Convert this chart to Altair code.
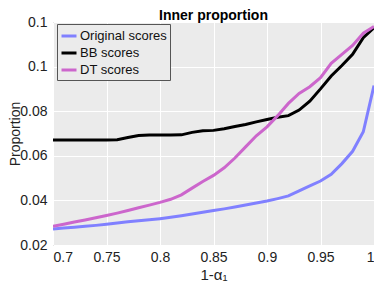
import altair as alt
import pandas as pd

x_vals = [0.70, 0.71, 0.72, 0.73, 0.74, 0.75, 0.76, 0.77, 0.78, 0.79, 0.80,
          0.81, 0.82, 0.83, 0.84, 0.85, 0.86, 0.87, 0.88, 0.89, 0.90,
          0.91, 0.92, 0.93, 0.94, 0.95, 0.96, 0.97, 0.98, 0.99, 1.00]

original = [0.0272, 0.0276, 0.0280, 0.0284, 0.0288, 0.0293, 0.0299, 0.0304, 0.0309, 0.0313, 0.0318,
            0.0324, 0.0331, 0.0339, 0.0347, 0.0355, 0.0362, 0.0370, 0.0379, 0.0388, 0.0397,
            0.0408, 0.0420, 0.0443, 0.0465, 0.0487, 0.0517, 0.0565, 0.0620, 0.0708, 0.0915]

bb = [0.0671, 0.0671, 0.0671, 0.0671, 0.0671, 0.0671, 0.0672, 0.0682, 0.0691, 0.0693, 0.0693,
      0.0693, 0.0694, 0.0705, 0.0712, 0.0714, 0.0721, 0.0731, 0.0740, 0.0752, 0.0763,
      0.0773, 0.0780, 0.0805, 0.0845, 0.0900, 0.0958, 0.1005, 0.1055, 0.1130, 0.1175]

dt = [0.0284, 0.0293, 0.0303, 0.0312, 0.0322, 0.0332, 0.0343, 0.0355, 0.0367, 0.0379, 0.0391,
      0.0405, 0.0425, 0.0455, 0.0485, 0.0512, 0.0546, 0.0590, 0.0640, 0.0690, 0.0730,
      0.0780, 0.0835, 0.0880, 0.0910, 0.0950, 0.1015, 0.1055, 0.1095, 0.1150, 0.1180]

series_names = ["Original scores", "BB scores", "DT scores"]
series_colors = ["#8080ff", "#000000", "#cc66cc"]
x_ticks = [0.7, 0.75, 0.8, 0.85, 0.9, 0.95, 1.0]
y_ticks = [0.02, 0.04, 0.06, 0.08, 0.1, 0.12]

rows = []
for name, vals in zip(series_names, [original, bb, dt]):
    for xv, yv in zip(x_vals, vals):
        rows.append({"x": xv, "y": yv, "series": name})
df = pd.DataFrame(rows)

FONT = "Liberation Sans"

chart = alt.Chart(df).mark_line(strokeWidth=3, clip=True).encode(
    x=alt.X("x:Q",
            scale=alt.Scale(domain=[0.7, 1.0], nice=False, zero=False),
            axis=alt.Axis(values=x_ticks, format="~g", title="1-α₁",
                          grid=True, gridColor="white", gridWidth=1,
                          ticks=False, labelPadding=5, titlePadding=3,
                          domain=False)),
    y=alt.Y("y:Q",
            scale=alt.Scale(domain=[0.02, 0.12], nice=False, zero=False),
            axis=alt.Axis(values=y_ticks, format="~g", title="Proportion",
                          grid=True, gridColor="white", gridWidth=1,
                          ticks=False, labelPadding=6,
                          titleX=-31, titleBaseline="bottom", titleFontSize=14,
                          domain=False)),
    color=alt.Color("series:N",
                    scale=alt.Scale(domain=series_names, range=series_colors),
                    legend=alt.Legend(title=None, orient="none", legendX=4, legendY=2,
                                      symbolType="stroke", symbolSize=225,
                                      symbolStrokeWidth=3, labelFontSize=13,
                                      labelFont=FONT, labelColor="#111",
                                      rowPadding=1, labelOffset=2,
                                      strokeColor="#555", fillColor="#ebebeb",
                                      padding=3, symbolOffset=0)),
    detail="series:N",
).properties(
    width=321,
    height=223,
    title=alt.TitleParams("Inner proportion", fontSize=14, font=FONT,
                          fontWeight="bold", color="#000", offset=-8),
    padding={"left": 45, "top": 14, "right": 0, "bottom": 41},
    autosize=alt.AutoSizeParams(type="none"),
).configure_view(
    fill="#ebebeb", stroke="#808080", strokeWidth=1
).configure_axis(
    labelFont=FONT, labelFontSize=14, labelColor="#222",
    titleFont=FONT, titleFontSize=15, titleColor="#222", titleFontWeight="normal"
)

chart.save("out.html", embed_options={"renderer": "svg", "actions": False})
